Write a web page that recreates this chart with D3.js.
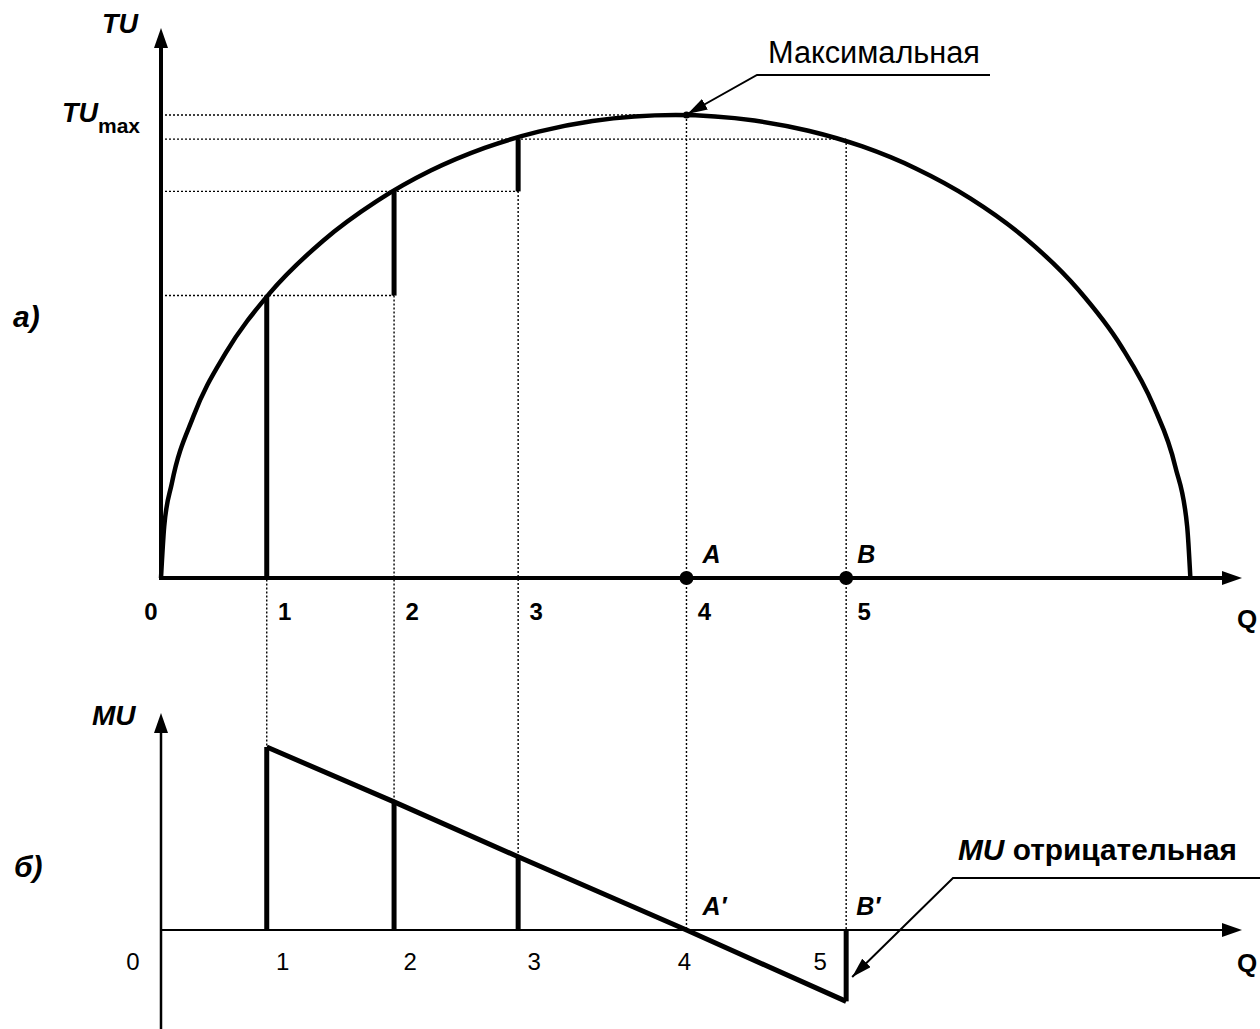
<!DOCTYPE html>
<html>
<head>
<meta charset="utf-8">
<script src="https://cdn.jsdelivr.net/npm/d3@7"></script>
<style>
  body { margin: 0; background: #fff; }
  svg { display: block; }
  text { font-family: "Liberation Sans", Arial, sans-serif; fill: #000; }
</style>
</head>
<body>
<svg width="1260" height="1029"></svg>
<script>
// marks on the Q axis (same in both panels)
const qLabels = ["1", "2", "3", "4", "5"];
const qValues = [9.8, 21.6, 33.1, 48.7, 63.5];
// total utility at each mark
const tuValues = [61, 83.5, 94.8, 100, 94.8];
// marginal utility at each mark
const muValues = [100, 70, 40, 0, -39];
// TU curve
const tuCurveQ = [0, 0.3, 1, 3, 6, 10, 15, 20, 25, 30, 35, 40, 47.7, 55, 60, 65, 70, 75, 80, 85, 89, 92, 94, 95.1, 95.4];
const tuCurveV = [0, 11.2, 20.4, 34.9, 48.6, 61.3, 72.8, 81.4, 88.0, 92.9, 96.4, 98.7, 100, 98.8, 96.6, 93.2, 88.4, 82.0, 73.6, 62.3, 50.0, 37.1, 24.1, 11.2, 0];

const svg = d3.select("svg");

const x = d3.scaleLinear().domain([0, 100]).range([161, 1240]);
const yTU = d3.scaleLinear().domain([0, 100]).range([578, 115]);
const yMU = d3.scaleLinear().domain([0, 100]).range([930, 747]);

svg.append("defs").append("marker")
  .attr("id", "tip")
  .attr("viewBox", "0 0 20 12")
  .attr("refX", 20).attr("refY", 6)
  .attr("markerWidth", 20).attr("markerHeight", 12)
  .attr("markerUnits", "userSpaceOnUse")
  .attr("orient", "auto")
  .append("path").attr("d", "M0,0L20,6L0,12Z").attr("fill", "#000");

function seg(g, x1, y1, x2, y2, w, dash) {
  const l = g.append("line")
    .attr("x1", x1).attr("y1", y1).attr("x2", x2).attr("y2", y2)
    .attr("stroke", "#000").attr("stroke-width", w);
  if (dash) l.attr("stroke-dasharray", dash);
  return l;
}
function arrowUp(g, cx, tipY) {
  g.append("path").attr("d", `M${cx},${tipY}L${cx - 7},${tipY + 20}L${cx + 7},${tipY + 20}Z`);
}
function arrowRight(g, tipX, cy) {
  g.append("path").attr("d", `M${tipX},${cy}L${tipX - 20},${cy - 7}L${tipX - 20},${cy + 7}Z`);
}
const txt = (g, tx, ty, s, size, weight, italic) =>
  g.append("text").attr("x", tx).attr("y", ty)
    .attr("font-size", size).attr("font-weight", weight)
    .attr("font-style", italic ? "italic" : "normal").text(s);

// ---------- guides (dotted) ----------
const guides = svg.append("g");
const guideTo = [1, 2, 4, 3]; // mark where each horizontal guide stops
guideTo.forEach((j, i) => {
  seg(guides, x(0), yTU(tuValues[i]), x(qValues[j]), yTU(tuValues[i]), 1.4, "2,2");
});
qValues.forEach((q, i) => {
  seg(guides, x(q), yTU(tuValues[i]), x(q), yMU(Math.max(muValues[i], 0)), 1.4, "2,2");
});

// ---------- panel a: TU ----------
const panelA = svg.append("g");
seg(panelA, x(0), yTU(0) + 2, x(0), 40, 4);
arrowUp(panelA, x(0), 28);
seg(panelA, x(0) - 2, yTU(0), x(100) - 10, yTU(0), 4);
arrowRight(panelA, x(100) + 2, yTU(0));

const tuLine = d3.line()
  .x((d) => x(d[0]))
  .y((d) => yTU(d[1]))
  .curve(d3.curveMonotoneX);
panelA.append("path")
  .attr("d", tuLine(tuCurveQ.map((q, i) => [q, tuCurveV[i]])))
  .attr("fill", "none").attr("stroke", "#000").attr("stroke-width", 4.5);

// steps of TU where MU > 0
qValues.forEach((q, i) => {
  if (muValues[i] <= 0) return;
  const from = i === 0 ? 0 : tuValues[i - 1];
  seg(panelA, x(q), yTU(from), x(q), yTU(tuValues[i]), 5);
});

// points A, B
[3, 4].forEach((i) => {
  panelA.append("circle").attr("cx", x(qValues[i])).attr("cy", yTU(0)).attr("r", 7);
});
panelA.append("circle").attr("cx", x(qValues[3])).attr("cy", yTU(tuValues[3])).attr("r", 3.5);

txt(panelA, 151, 620, "0", 24, "bold").attr("text-anchor", "middle");
qLabels.forEach((s, i) => txt(panelA, x(qValues[i]) + 18, 620, s, 24, "bold").attr("text-anchor", "middle"));
txt(panelA, 1237, 628, "Q", 26, "bold");
txt(panelA, x(qValues[3]) + 25, 563, "A", 25, "bold", true).attr("text-anchor", "middle");
txt(panelA, x(qValues[4]) + 20, 563, "B", 25, "bold", true).attr("text-anchor", "middle");
txt(panelA, 102, 33, "TU", 27, "bold", true);
const tmax = txt(panelA, 62, 122, "TU", 27, "bold", true);
tmax.append("tspan").attr("font-size", 21).attr("font-style", "normal").attr("dy", 11).text("max");
txt(panelA, 13, 327, "а)", 30, "bold", true);

// "Максимальная" callout
txt(panelA, 768, 63, "Максимальная", 31, "normal")
  .attr("textLength", 212).attr("lengthAdjust", "spacingAndGlyphs");
panelA.append("path")
  .attr("d", `M990,75L757,75L${x(qValues[3]) + 1},${yTU(tuValues[3]) - 1}`)
  .attr("fill", "none").attr("stroke", "#000").attr("stroke-width", 2)
  .attr("marker-end", "url(#tip)");

// ---------- panel б: MU ----------
const panelB = svg.append("g");
seg(panelB, x(0), 1029, x(0), 725, 2.5);
arrowUp(panelB, x(0), 713);
seg(panelB, x(0), yMU(0), x(100) - 10, yMU(0), 2.2);
arrowRight(panelB, x(100) + 2, yMU(0));

const muLine = d3.line().x((d, i) => x(qValues[i])).y((d) => yMU(d));
panelB.append("path").attr("d", muLine(muValues))
  .attr("fill", "none").attr("stroke", "#000").attr("stroke-width", 5)
  .attr("stroke-linejoin", "round");

qValues.forEach((q, i) => {
  if (muValues[i] === 0) return;
  seg(panelB, x(q), yMU(0), x(q), yMU(muValues[i]), 5);
});

txt(panelB, 133, 970, "0", 24, "normal").attr("text-anchor", "middle");
qLabels.forEach((s, i) => {
  const dx = i < 3 ? 16 : i === 3 ? -2 : -26;
  txt(panelB, x(qValues[i]) + dx, 970, s, 24, "normal").attr("text-anchor", "middle");
});
txt(panelB, 1237, 972, "Q", 26, "bold");
txt(panelB, x(qValues[3]) + 28, 915, "A′", 25, "bold", true).attr("text-anchor", "middle");
txt(panelB, x(qValues[4]) + 22, 915, "B′", 25, "bold", true).attr("text-anchor", "middle");
txt(panelB, 92, 725, "MU", 28, "bold", true);
txt(panelB, 14, 877, "б)", 30, "bold", true);

// "MU отрицательная" callout
const neg = panelB.append("text").attr("x", 958).attr("y", 860)
  .attr("font-size", 29).attr("font-weight", "bold")
  .attr("textLength", 279).attr("lengthAdjust", "spacingAndGlyphs");
neg.append("tspan").attr("font-style", "italic").text("MU");
neg.append("tspan").text(" отрицательная");
panelB.append("path")
  .attr("d", `M1262,878L953,878L${x(qValues[4]) + 6},${yMU(0) + 47}`)
  .attr("fill", "none").attr("stroke", "#000").attr("stroke-width", 2)
  .attr("marker-end", "url(#tip)");
</script>
</body>
</html>
